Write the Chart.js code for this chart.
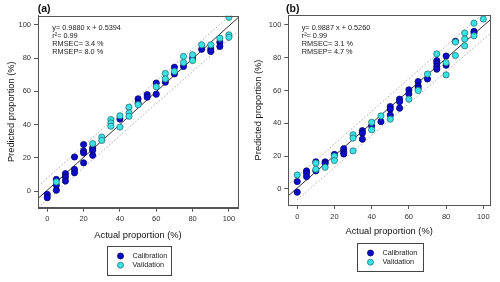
<!DOCTYPE html>
<html>
<head>
<meta charset="utf-8">
<script src="https://cdn.jsdelivr.net/npm/chart.js@4"></script>
<style>
  body { margin: 0; background: #fff; }
  .panel { position: absolute; top: 0; width: 250px; height: 282px; }
</style>
</head>
<body>
<div class="panel" style="left:0"><canvas id="chartA" width="250" height="282"></canvas></div>
<div class="panel" style="left:250px"><canvas id="chartB" width="250" height="282"></canvas></div>
<script>
// ---- panel (a) ----
const calA_x = [0, 0, 5, 5, 5, 10, 10, 10, 15, 15, 15, 20, 20, 20, 20, 25, 25, 25, 40, 50, 50, 55, 55, 60, 60, 65, 70, 70, 75, 80, 85, 90, 90, 95, 95];
const calA_y = [-2, -4, 7, 3.5, 0.5, 10.5, 8.5, 6, 20.5, 13, 11, 28, 24, 23, 17, 26, 24.5, 21.5, 43.3, 55.5, 53, 58, 56.5, 65, 58.3, 65.5, 74.5, 70.5, 75, 80, 85.3, 85.5, 84, 89.5, 87];
const valA_x = [5, 25, 30, 30, 35, 35, 35, 40, 40, 45, 45, 45, 50, 60, 65, 65, 70, 75, 75, 80, 80, 85, 90, 95, 100, 100, 100];
const valA_y = [5.5, 28.5, 32.5, 30.5, 43, 41, 39, 45.3, 38.5, 50.5, 47, 45, 52, 62.7, 70.8, 67.5, 72, 81, 77.3, 82, 78.5, 88, 88, 92, 104.5, 94, 92.5];
const regA = [[-5, -4.4], [105, 104.3]];
const upA = [[-5, 3], [100.4, 105.5]];
const lowA = [[-5, -10], [105, 96]];
const statsA = ['y= 0.9880 x + 0.5394', 'r\u00b2= 0.99', 'RMSEC= 3.4 %', 'RMSEP= 8.0 %'];

// ---- panel (b) ----
const calB_x = [0, 0, 5, 5, 5, 10, 10, 15, 15, 20, 25, 25, 25, 35, 35, 35, 40, 45, 50, 50, 50, 55, 55, 55, 60, 60, 65, 65, 65, 70, 75, 75, 75, 75, 80, 80, 85, 95, 95];
const calB_y = [4.5, -2, 11, 9.5, 7.5, 16.5, 11, 16.5, 15.5, 21, 24.5, 22.5, 21.3, 35.5, 34, 30.3, 38.4, 41, 50.2, 48.6, 45, 54.7, 53.2, 49.2, 60.4, 57.9, 65.4, 62.8, 61.4, 67, 78.2, 76.6, 74.6, 73, 81, 75.4, 90, 96, 95];
const valB_x = [0, 10, 10, 15, 20, 20, 30, 30, 30, 40, 40, 45, 50, 60, 65, 70, 75, 80, 80, 85, 85, 90, 90, 90, 95, 95, 100];
const valB_y = [8.5, 15.7, 12, 13.2, 20, 17.3, 33, 31, 23.2, 40.6, 36, 44.5, 42.5, 54.7, 60, 70, 82.3, 77, 69.5, 81.3, 89.5, 95, 91.3, 87.2, 101, 93.3, 103.5];
const regB = [[-5, -4.4], [104, 103.3]];
const upB = [[-5, 2.5], [98.5, 105.5]];
const lowB = [[0, -6.5], [104, 95]];
const statsB = ['y= 0.9887 x + 0.5260', 'r\u00b2= 0.99', 'RMSEC= 3.1 %', 'RMSEP= 4.7 %'];

const tickVals = [0, 20, 40, 60, 80, 100];
const seriesNames = ['Calibration', 'Validation'];
const calColor = '#0b0bc8', calBorder = '#00006e';
const valColor = '#3ae3e3', valBorder = '#27707c';

function pts(xs, ys) {
    return xs.map((x, i) => ({ x: x, y: ys[i] }));
}
function seg(p) {
    return p.map(q => ({ x: q[0], y: q[1] }));
}

// frame, panel label, stats text and legend box
const panelDeco = {
    id: 'panelDeco',
    afterDraw(chart, args, opts) {
        const ctx = chart.ctx;
        const a = chart.chartArea;
        ctx.save();
        ctx.strokeStyle = '#555';
        ctx.lineWidth = 1;
        ctx.strokeRect(Math.round(a.left) + 0.5, Math.round(a.top) + 0.5, Math.round(a.right - a.left), Math.round(a.bottom - a.top));

        ctx.fillStyle = '#111';
        ctx.font = 'bold 10.5px "Liberation Sans", Arial, sans-serif';
        ctx.textBaseline = 'middle';
        ctx.textAlign = 'left';
        ctx.fillText(opts.label, opts.labelX, 9.5);

        ctx.font = '7.3px "Liberation Sans", Arial, sans-serif';
        ctx.fillStyle = '#222';
        opts.stats.forEach((s, i) => ctx.fillText(s, opts.statsX, 27.5 + i * 8.2));

        // legend
        const L = opts.legend;
        ctx.strokeStyle = '#444';
        ctx.strokeRect(L.x + 0.5, L.y + 0.5, L.w, L.h);
        const ds = chart.data.datasets.filter(d => seriesNames.includes(d.label));
        ds.forEach((d, i) => {
            const cy = L.y + 10 + i * 9.2;
            ctx.beginPath();
            ctx.arc(L.x + 13.5, cy, 3, 0, Math.PI * 2);
            ctx.fillStyle = d.backgroundColor;
            ctx.fill();
            ctx.lineWidth = 0.8;
            ctx.strokeStyle = d.borderColor;
            ctx.stroke();
            ctx.fillStyle = '#222';
            ctx.fillText(d.label, L.x + 25.5, cy);
        });
        ctx.restore();
    }
};

function makeChart(id, cfg) {
    const font = { family: '"Liberation Sans", Arial, sans-serif' };
    return new Chart(document.getElementById(id), {
        type: 'scatter',
        data: {
            datasets: [
                { label: 'Calibration', data: pts(cfg.calX, cfg.calY), backgroundColor: calColor, borderColor: calBorder, borderWidth: 0.8, pointRadius: 3.1, order: 2 },
                { label: 'Validation', data: pts(cfg.valX, cfg.valY), backgroundColor: valColor, borderColor: valBorder, borderWidth: 0.8, pointRadius: 3.1, order: 1 },
                { label: 'fit', data: seg(cfg.reg), showLine: true, pointRadius: 0, borderColor: '#333', borderWidth: 1, order: 3 },
                { label: 'upper', data: seg(cfg.up), showLine: true, pointRadius: 0, borderColor: '#aaa', borderWidth: 1, borderDash: [1.5, 2], order: 4 },
                { label: 'lower', data: seg(cfg.low), showLine: true, pointRadius: 0, borderColor: '#aaa', borderWidth: 1, borderDash: [1.5, 2], order: 4 }
            ]
        },
        options: {
            responsive: false,
            animation: false,
            devicePixelRatio: 1,
            layout: { padding: { left: 0, right: cfg.padRight, top: cfg.padTop, bottom: cfg.padBottom } },
            plugins: {
                legend: { display: false },
                tooltip: { enabled: false },
                panelDeco: cfg.deco
            },
            scales: {
                x: {
                    type: 'linear',
                    min: cfg.xMin, max: cfg.xMax,
                    afterBuildTicks: s => { s.ticks = tickVals.map(v => ({ value: v })); },
                    afterFit: s => { s.height = cfg.xHeight; },
                    grid: { drawOnChartArea: false, drawTicks: true, tickLength: 4, color: '#555' },
                    border: { display: true, color: '#555' },
                    ticks: { color: '#333', font: { ...font, size: 7.5 }, padding: 3, maxRotation: 0 },
                    title: { display: true, text: 'Actual proportion (%)', color: '#111', font: { ...font, size: 9.3 }, padding: 0 }
                },
                y: {
                    type: 'linear',
                    min: cfg.yMin, max: cfg.yMax,
                    afterBuildTicks: s => { s.ticks = tickVals.map(v => ({ value: v })); },
                    afterFit: s => { s.width = cfg.yWidth; },
                    grid: { drawOnChartArea: false, drawTicks: true, tickLength: 4, color: '#555' },
                    border: { display: true, color: '#555' },
                    ticks: { color: '#333', font: { ...font, size: 7.5 }, padding: 3 },
                    title: { display: true, text: 'Predicted proportion (%)', color: '#111', font: { ...font, size: 9.3 }, padding: { top: cfg.yTitlePad, bottom: 0 } }
                }
            }
        },
        plugins: [panelDeco]
    });
}

makeChart('chartA', {
    calX: calA_x, calY: calA_y, valX: valA_x, valY: valA_y,
    reg: regA, up: upA, low: lowA,
    xMin: -5.1, xMax: 105, yMin: -10, yMax: 105.5,
    padRight: 12, padTop: 15.7, padBottom: 40.6, xHeight: 33.7, yWidth: 38, yTitlePad: 5.4,
    deco: { label: '(a)', labelX: 37.7, stats: statsA, statsX: 52.3, legend: { x: 107, y: 246, w: 64, h: 29 } }
});

makeChart('chartB', {
    calX: calB_x, calY: calB_y, valX: valB_x, valY: valB_y,
    reg: regB, up: upB, low: lowB,
    xMin: -4.8, xMax: 103.6, yMin: -9.8, yMax: 106,
    padRight: 10, padTop: 15, padBottom: 44.9, xHeight: 32.1, yWidth: 38.3, yTitlePad: 2.7,
    deco: { label: '(b)', labelX: 36, stats: statsB, statsX: 51.7, legend: { x: 107, y: 243, w: 66, h: 28 } }
});
</script>
</body>
</html>
